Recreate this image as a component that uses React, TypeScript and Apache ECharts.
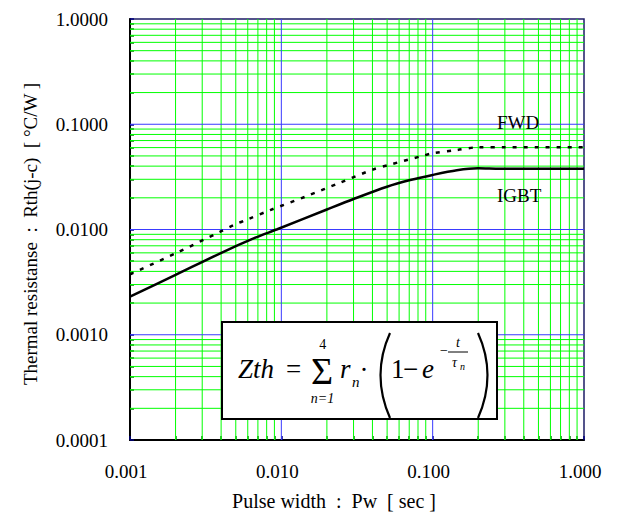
import React, { useEffect, useRef } from 'react';
import * as echarts from 'echarts';

// Pulse width [sec] and thermal resistance [°C/W]
const igbtX = [0.001, 0.002, 0.00395, 0.00673, 0.0094, 0.02, 0.03, 0.0499, 0.071, 0.1, 0.1445, 0.2, 0.279, 0.5, 1.0];
const igbtY = [0.0023, 0.0037, 0.00594, 0.00836, 0.01005, 0.0155, 0.0195, 0.0255, 0.0295, 0.033, 0.0365, 0.0381, 0.0377, 0.0378, 0.0378];

const fwdX = [0.001, 0.002, 0.00395, 0.00484, 0.00608, 0.00845, 0.0144, 0.0245, 0.0406, 0.051, 0.0849, 0.1, 0.1445, 0.2, 0.3, 0.5, 1.0];
const fwdY = [0.00375, 0.00594, 0.00953, 0.011, 0.0126, 0.0153, 0.0205, 0.0279, 0.0373, 0.041, 0.0499, 0.053, 0.0569, 0.0604, 0.0604, 0.0604, 0.0604];

const seriesNames = ['IGBT', 'FWD'];
const xRange = [0.001, 1];
const yRange = [0.0001, 1];
// log-paper grid: decade lines and minor lines (2..9 within each decade)
const minorSteps = [2, 3, 4, 5, 6, 7, 8, 9];
const xDecades = [0.001, 0.01, 0.1, 1];
const yDecades = [0.0001, 0.001, 0.01, 0.1, 1];
const xTitle = 'Pulse width  :  Pw  [ sec ]';
const yTitle = 'Thermal resistanse  :  Rth(j-c)  [ °C/W ]';

const FONT = "'Liberation Serif', 'Times New Roman', serif";

export default function App() {
  const ref = useRef<HTMLDivElement>(null);
  useEffect(() => {
    const chart = echarts.init(ref.current!, null, { renderer: 'svg' });
    const green = '#00ff00';
    const blue = '#3a3aff';
    const minorOf = (decades: number[]) => {
      const out: number[] = [];
      decades.slice(0, -1).forEach((d) => minorSteps.forEach((s) => out.push(+(d * s).toPrecision(3))));
      return out;
    };
    const vLinesOf = (vals: number[]) => {
      const out: any[] = [];
      vals.forEach((v) => out.push([v, yRange[0]], [v, yRange[1]], '-'));
      return out;
    };
    const hLinesOf = (vals: number[]) => {
      const out: any[] = [];
      vals.forEach((v) => out.push([xRange[0], v], [xRange[1], v], '-'));
      return out;
    };

    const txt = (text: string, x: number, y: number, fs: number, opts: any = {}) => ({
      type: 'text',
      x,
      y,
      z: 110,
      style: {
        text,
        fontFamily: FONT,
        fontSize: fs,
        fill: '#000',
        align: opts.align || 'left',
        verticalAlign: 'middle',
        fontStyle: opts.italic ? 'italic' : 'normal',
      },
    });
    const axisCommon = {
      type: 'log',
      logBase: 10,
      interval: 1,
      axisLine: { show: true, onZero: false, lineStyle: { color: '#000', width: 2 } },
      axisTick: { show: true, inside: true, length: 4, lineStyle: { color: '#000080', width: 1.5 } },
      minorTick: { show: true, splitNumber: 9, length: 4, lineStyle: { color: '#008000', width: 1.5 } },
      splitLine: { show: false },
      minorSplitLine: { show: false },
    };
    const gridSeries = (name: string, data: any[], color: string, z: number) => ({
      name,
      type: 'line',
      data,
      z,
      silent: true,
      showSymbol: false,
      connectNulls: false,
      lineStyle: { color, width: 1 },
      emphasis: { disabled: true },
    });
    const option: any = {
      animation: false,
      backgroundColor: '#fff',
      grid: {
        left: 130,
        right: 33,
        top: 19,
        bottom: 83,
        show: true,
        borderColor: '#1c1c66',
        borderWidth: 1.5,
        backgroundColor: 'transparent',
      },
      xAxis: {
        ...axisCommon,
        min: xRange[0],
        max: xRange[1],
        axisLabel: {
          margin: 22,
          fontFamily: FONT,
          fontSize: 19,
          color: '#000',
          padding: [0, 8, 0, 0],
          formatter: (v: number) => v.toFixed(3),
        },
      },
      yAxis: {
        ...axisCommon,
        min: yRange[0],
        max: yRange[1],
        axisLabel: {
          margin: 22,
          fontFamily: FONT,
          fontSize: 19,
          color: '#000',
          formatter: (v: number) => v.toFixed(4),
        },
      },
      series: [
        gridSeries('minorX', vLinesOf(minorOf(xDecades)), green, 1),
        gridSeries('minorY', hLinesOf(minorOf(yDecades)), green, 1),
        gridSeries('majorX', vLinesOf(xDecades.slice(1, -1)), blue, 2),
        gridSeries('majorY', hLinesOf(yDecades.slice(1, -1)), blue, 2),
        {
          name: seriesNames[0],
          type: 'line',
          data: igbtX.map((x, i) => [x, igbtY[i]]),
          showSymbol: false,
          smooth: 0.3,
          lineStyle: { color: '#000', width: 2.5 },
          z: 5,
        },
        {
          name: seriesNames[1],
          type: 'line',
          data: fwdX.map((x, i) => [x, fwdY[i]]),
          showSymbol: false,
          smooth: 0.3,
          lineStyle: { color: '#000', width: 2.5, type: [4, 7] },
          z: 5,
        },
      ],
      graphic: [
        // axis titles
        {
          type: 'text',
          x: 30,
          y: 234,
          rotation: Math.PI / 2,
          style: {
            text: yTitle,
            fontFamily: FONT,
            fontSize: 19,
            fill: '#000',
            align: 'center',
            verticalAlign: 'middle',
          },
        },
        {
          type: 'text',
          x: 334,
          y: 501,
          style: {
            text: xTitle,
            fontFamily: FONT,
            fontSize: 20,
            fill: '#000',
            align: 'center',
            verticalAlign: 'middle',
          },
        },
        // series labels
        txt(seriesNames[1], 497, 122, 19),
        txt(seriesNames[0], 497, 195, 19),
        // formula box
        {
          type: 'rect',
          z: 100,
          shape: { x: 222, y: 322, width: 275, height: 97 },
          style: { fill: '#fff', stroke: '#000', lineWidth: 2 },
        },
        txt('Zth', 238, 369, 27, { italic: true }),
        txt('=', 286, 369, 27),
        txt('Σ', 322, 371, 38, { align: 'center' }),
        txt('4', 322.7, 344, 14, { align: 'center' }),
        txt('n=1', 322.5, 398, 14, { align: 'center', italic: true }),
        txt('r', 340, 369, 27, { italic: true }),
        txt('n', 352, 382, 15, { italic: true }),
        txt('·', 364, 370, 27, { align: 'center' }),
        {
          type: 'bezierCurve',
          z: 110,
          shape: { x1: 390, y1: 333, cpx1: 371, cpy1: 375, x2: 390, y2: 418 },
          style: { stroke: '#000', lineWidth: 2.2, fill: 'none' },
        },
        txt('1', 391, 369, 27),
        txt('−', 403, 369, 27),
        txt('e', 422, 369, 27, { italic: true }),
        txt('−', 440, 350, 14),
        txt('t', 458, 342, 14, { align: 'center', italic: true }),
        {
          type: 'line',
          z: 110,
          shape: { x1: 448, y1: 352, x2: 468, y2: 352 },
          style: { stroke: '#000', lineWidth: 1 },
        },
        txt('τ', 452, 362, 14, { italic: true }),
        txt('n', 460, 366, 10, { italic: true }),
        {
          type: 'bezierCurve',
          z: 110,
          shape: { x1: 478, y1: 333, cpx1: 497, cpy1: 375, x2: 478, y2: 418 },
          style: { stroke: '#000', lineWidth: 2.2, fill: 'none' },
        },
      ],
    };
    chart.setOption(option);
    return () => chart.dispose();
  }, []);
  return (
    <div
      ref={ref}
      style={{ position: 'fixed', left: 0, top: 0, width: 617, height: 523, background: '#fff' }}
    />
  );
}
